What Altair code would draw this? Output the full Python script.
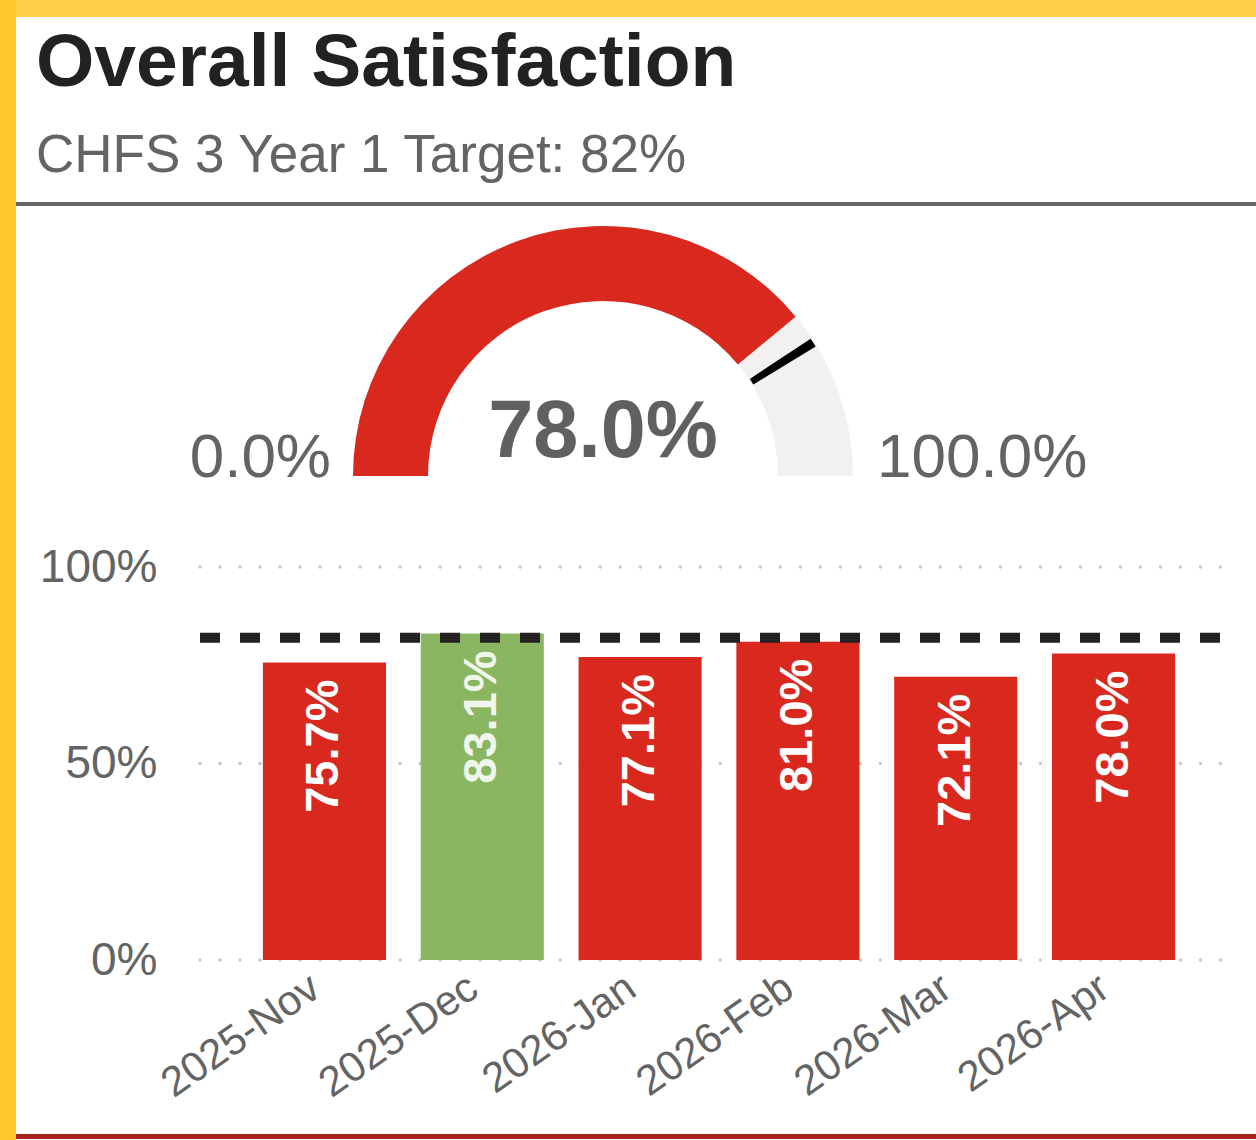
import math
import altair as alt
import pandas as pd

# ---------------- data ----------------
title_text = "Overall Satisfaction"
subtitle_text = "CHFS 3 Year 1 Target: 82%"
months = ["2025-Nov", "2025-Dec", "2026-Jan", "2026-Feb", "2026-Mar", "2026-Apr"]
values = [75.7, 83.1, 77.1, 81.0, 72.1, 78.0]
target = 82.0
current = 78.0
gauge_min = 0.0
gauge_max = 100.0
y_ticks = [0, 50, 100]

# ---------------- styles ----------------
FONT = "Liberation Sans"
RED = "#D9291E"
GREEN = "#8AB662"
GAUGE_BG = "#F2F1EF"
GREY_TEXT = "#646464"
W, H = 1256, 1140

bars_df = pd.DataFrame({
    "month": months,
    "value": values,
    "label": [f"{v:.1f}%" for v in values],
})
grid_df = pd.DataFrame({"tick": y_ticks})
target_df = pd.DataFrame({"target": [target]})
gauge_bg_df = pd.DataFrame({"start": [gauge_min], "end": [gauge_max]})
gauge_val_df = pd.DataFrame({"start": [gauge_min], "end": [current]})
marker_half = 0.6
gauge_marker_df = pd.DataFrame({"start": [target - marker_half], "end": [target + marker_half]})
gauge_center_df = pd.DataFrame({"label": [f"{current:.1f}%"]})
gauge_min_df = pd.DataFrame({"label": [f"{gauge_min:.1f}%"]})
gauge_max_df = pd.DataFrame({"label": [f"{gauge_max:.1f}%"]})
title_df = pd.DataFrame({"t": [title_text]})
subtitle_df = pd.DataFrame({"t": [subtitle_text]})
one = alt.Data(values=[{}])

# ---------------- scales / axes ----------------
x_scale = alt.Scale(domain=months, range=[199, 1239], paddingInner=0.22, paddingOuter=0.405)
y_scale = alt.Scale(domain=[0, 100], range=[960, 567], nice=False, zero=True)
theta_scale = alt.Scale(domain=[gauge_min, gauge_max], range=[-math.pi / 2, math.pi / 2])

x_axis = alt.Axis(
    title=None, orient="bottom", offset=960 - H, domain=False, ticks=False, tickSize=0,
    grid=False, labelAngle=-35, labelAlign="right", labelBaseline="middle",
    labelPadding=23, labelOffset=-9, labelFontSize=42, labelColor=GREY_TEXT, labelFont=FONT,
    labelOverlap=False, labelLimit=600,
)
y_axis = alt.Axis(
    title=None, orient="left", offset=-157, domain=False, ticks=False, tickSize=0,
    grid=False, values=y_ticks, labelExpr="datum.value + '%'", labelPadding=0,
    labelFontSize=46, labelColor=GREY_TEXT, labelFont=FONT, labelBaseline="middle",
    labelLimit=600,
)

# ---------------- decorations ----------------
top_band = alt.Chart(one).mark_rect(color="#FFCF4A").encode(
    x=alt.value(0), x2=alt.value(W), y=alt.value(0), y2=alt.value(17))
left_band = alt.Chart(one).mark_rect(color="#FFC72C").encode(
    x=alt.value(0), x2=alt.value(16), y=alt.value(0), y2=alt.value(H))
separator = alt.Chart(one).mark_rect(color="#666666").encode(
    x=alt.value(16), x2=alt.value(W), y=alt.value(202), y2=alt.value(206))
bottom_line = alt.Chart(one).mark_rect(color="#A8231C").encode(
    x=alt.value(16), x2=alt.value(W), y=alt.value(1134), y2=alt.value(1139))

title = alt.Chart(title_df).mark_text(
    align="left", baseline="alphabetic", font=FONT, fontSize=75, fontWeight="bold", color="#222222"
).encode(x=alt.value(36), y=alt.value(86), text="t:N")
subtitle = alt.Chart(subtitle_df).mark_text(
    align="left", baseline="alphabetic", font=FONT, fontSize=53, color=GREY_TEXT
).encode(x=alt.value(36), y=alt.value(172), text="t:N")

# ---------------- gauge ----------------
GX, GY = 603, 476


def gauge_arc(df, color, outer=250, inner=175):
    return alt.Chart(df).mark_arc(radius=outer, radius2=inner, color=color).encode(
        theta=alt.Theta("start:Q", scale=theta_scale, stack=None),
        theta2="end:Q",
        x=alt.value(GX), y=alt.value(GY),
    )


g_bg = gauge_arc(gauge_bg_df, GAUGE_BG)
g_val = gauge_arc(gauge_val_df, RED)
g_marker = gauge_arc(gauge_marker_df, "#000000", outer=249, inner=176)

g_center = alt.Chart(gauge_center_df).mark_text(
    align="center", baseline="alphabetic", font=FONT, fontSize=81, fontWeight="bold", color="#606060"
).encode(x=alt.value(GX), y=alt.value(457), text="label:N")
g_min = alt.Chart(gauge_min_df).mark_text(
    align="right", baseline="alphabetic", font=FONT, fontSize=62, color=GREY_TEXT
).encode(x=alt.value(GX - 250 - 22), y=alt.value(477), text="label:N")
g_max = alt.Chart(gauge_max_df).mark_text(
    align="left", baseline="alphabetic", font=FONT, fontSize=62, color=GREY_TEXT
).encode(x=alt.value(GX + 250 + 24), y=alt.value(477), text="label:N")

# ---------------- bar chart ----------------
grid = alt.Chart(grid_df).mark_rule(
    color="#C9C9C9", strokeWidth=3.5, strokeDash=[0.01, 20], strokeCap="round"
).encode(
    y=alt.Y("tick:Q", scale=y_scale, axis=y_axis),
    x=alt.value(200), x2=alt.value(1240),
)

bars = alt.Chart(bars_df).mark_bar().encode(
    x=alt.X("month:N", scale=x_scale, sort=None, axis=x_axis),
    y=alt.Y("value:Q", scale=y_scale, axis=y_axis),
    color=alt.condition(alt.datum.value >= target, alt.value(GREEN), alt.value(RED)),
)

bar_labels = alt.Chart(bars_df).mark_text(
    angle=270, align="right", baseline="middle", dx=-17,
    font=FONT, fontSize=47, fontWeight="bold",
).encode(
    x=alt.X("month:N", scale=x_scale, sort=None, axis=x_axis),
    y=alt.Y("value:Q", scale=y_scale, axis=y_axis),
    text="label:N",
    color=alt.condition(alt.datum.value >= target, alt.value("#F1F6EC"), alt.value("#FFFFFF")),
)

target_line = alt.Chart(target_df).mark_rule(
    color="#222222", strokeWidth=10, strokeDash=[20, 20]
).encode(
    y=alt.Y("target:Q", scale=y_scale, axis=y_axis),
    x=alt.value(200), x2=alt.value(1240),
)

chart = alt.layer(
    top_band, left_band, separator, bottom_line,
    title, subtitle,
    g_bg, g_val, g_marker, g_center, g_min, g_max,
    grid, bars, bar_labels, target_line,
).properties(
    width=W, height=H,
    autosize=alt.AutoSizeParams(type="none"),
    padding=0,
    background="#FFFFFF",
).configure_view(stroke=None)

chart.save("out.html", embed_options={"renderer": "svg", "actions": False})
